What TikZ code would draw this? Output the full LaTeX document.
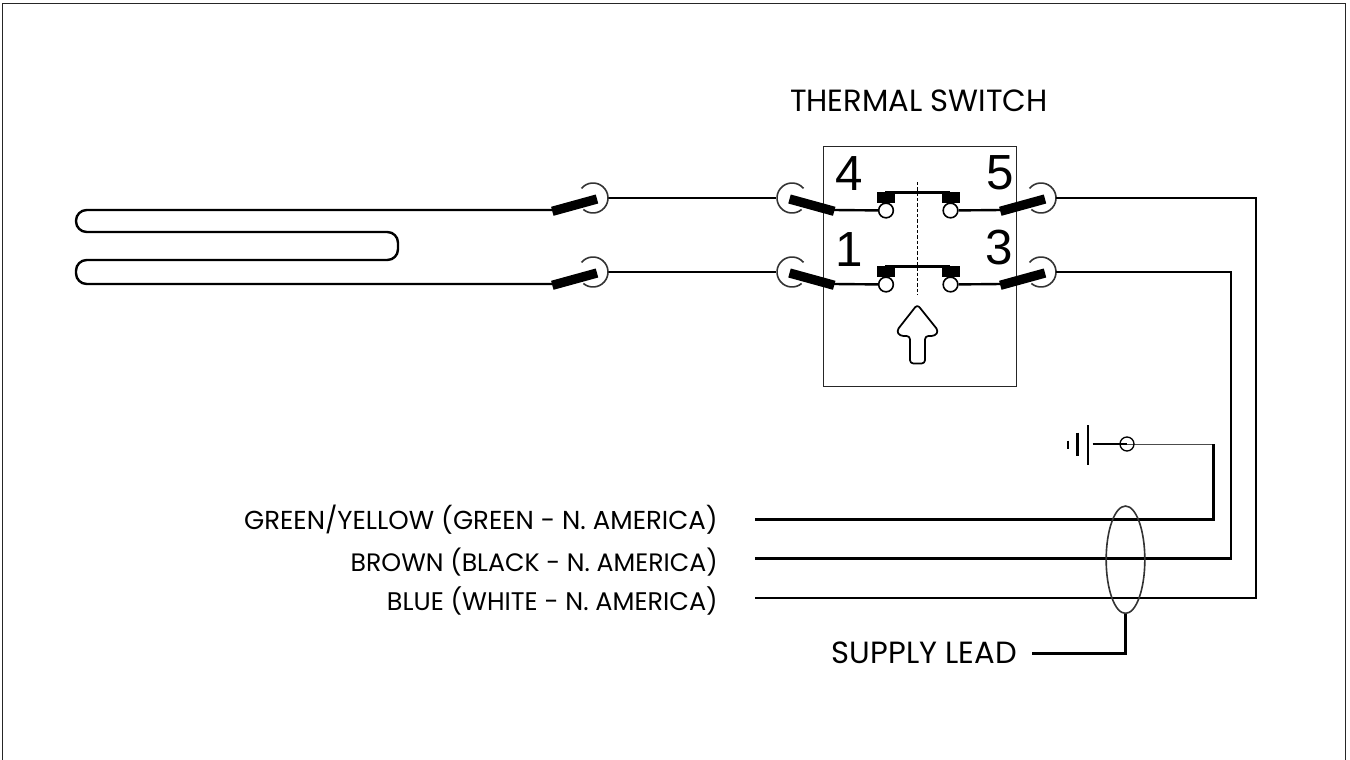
\documentclass[tikz,border=0pt]{standalone}
\usepackage{fontspec}
\usetikzlibrary{shapes.geometric}
\setmainfont{Poppins}
\newfontfamily\numfont{Liberation Sans}
\tikzset{
  px/.style={x=0.75pt,y=-0.75pt},
  wire/.style={draw=black,line width=1.8pt},
  thinwire/.style={draw=black!70,line width=0.7pt},
  biglabel/.style={inner sep=0pt,font=\fontsize{23}{26}\selectfont,text=black},
  wirelabel/.style={inner sep=0pt,anchor=base east,text=black},
  num/.style={inner sep=0pt,anchor=base,font=\numfont\fontsize{37}{40}\selectfont},
  ring/.style={draw=black!80,line width=1.2pt},
  post/.style={circle,draw=black,line width=1.2pt,minimum size=11pt,inner sep=0pt,fill=white},
  barb/.style={draw=black,line width=7pt},
  contact/.style={fill=black},
}
\newcommand{\leftterm}[2]{% arc centre (#1,#2), open to the right, bar runs down-right
  \draw[ring] (#1,#2) ++(-40:15) arc[start angle=-40,end angle=-310,radius=15];
  \draw[barb] (#1-2.5,#2+1) -- ++(44.7,12.3);
}
\newcommand{\rightterm}[2]{% arc centre (#1,#2), open to the left, bar runs down-left
  \draw[ring] (#1,#2) ++(-140:15) arc[start angle=-140,end angle=130,radius=15];
  \draw[barb] (#1+4,#2+1) -- ++(-44.7,12.3);
}
\begin{document}
\begin{tikzpicture}[px]
\useasboundingbox (0,0) rectangle (1350,760);
\draw[line width=0.8pt,black!85] (2.5,760) -- (2.5,3.5) -- (1345.5,3.5) -- (1345.5,760);

\coordinate (hA) at (552,210);
\coordinate (hB) at (552,284);
\coordinate (a1) at (608,198);
\coordinate (a2) at (608,272);
\coordinate (b1) at (776,198);
\coordinate (b2) at (776,272);
\coordinate (c1) at (1056,198);
\coordinate (c2) at (1056,272);
\coordinate (d1) at (834,210);
\coordinate (d2) at (834,284);
\coordinate (e1) at (1001,210);
\coordinate (e2) at (1001,284);

% heater
\draw[wire,rounded corners=8] (hA) -- (76,210) -- (76,232) -- (398,232) -- (398,260) -- (76,260) -- (76,284) -- (hB);

% wires between terminals
\draw[wire] (a1) -- (b1);
\draw[wire] (a2) -- (b2);

% switch box
\draw[line width=0.75pt,black!85] (823.5,146) rectangle (1016.5,386);
\node[num] (n4) at (849.5,190) {4};
\node[num] (n5) at (1000.5,189) {5};
\node[num] (n1) at (849,266.5) {1};
\node[num] (n3) at (999.5,264) {3};

% posts and contacts
\node[post] (p1) at (886,210.5) {};
\node[post] (p2) at (950.5,210.5) {};
\node[post] (p3) at (886,284.5) {};
\node[post] (p4) at (950.5,284.5) {};
\draw[wire] (d1) -- (p1);
\draw[wire] (e1) -- (p2);
\draw[wire] (d2) -- (p3);
\draw[wire] (e2) -- (p4);
\foreach \y in {191.7,265.7}{
  \fill[contact] (876.7,\y) rectangle (895,\y+11);
  \fill[contact] (941.7,\y) rectangle (960,\y+11);
  \draw[wire] (885,\y+0.6) -- (950,\y+0.6);
}
\draw[line width=0.7pt,black,dash pattern=on 2.4pt off 1.6pt] (917.3,182) -- (917.3,295);

% arrow
\draw[line width=1.3pt,rounded corners=2.5pt,line join=round]
  (917.3,304.5) -- (938.5,331) -- (935,336) -- (925,336) -- (925,363.5) -- (910,363.5) -- (910,336) -- (900,336) -- (896.5,331) -- cycle;

% terminals
\foreach \y in {198,272}{
  \draw[ring] (593,\y) ++(-140:15) arc[start angle=-140,end angle=130,radius=15];
  \draw[barb] (597,\y+1) -- ++(-44.7,12.3);
  \leftterm{792}{\y}
  \rightterm{1041}{\y}
}

% supply wiring
\coordinate (gnd) at (1127,444);
\coordinate (gcorner) at (1213.5,444);
\coordinate (wg) at (755,519.5);
\coordinate (wb) at (755,558.5);
\coordinate (wu) at (755,598);
\draw[thinwire] (gnd) -- (gcorner);
\draw[wire] (gcorner) -- (1213.5,519.5) -- (wg);
\draw[wire,line join=miter] (c2) -- (1231,272) -- (1231,558.5) -- (wb);
\draw[wire,line join=miter] (c1) -- (1256,198) -- (1256,598) -- (wu);

% earth symbol
\node[circle,draw=black,line width=1pt,minimum size=10.5pt,inner sep=0pt] (gc) at (gnd) {};
\coordinate (gbar) at (1092.5,444);
\draw[line width=1.2pt] (gbar) -- (gc.center);
\draw[line width=1.6pt] (1087.7,425) -- (1087.7,465);
\draw[line width=1.6pt] (1077.5,432.5) -- (1077.5,456);
\draw[line width=1.6pt] (1067.7,440.5) -- (1067.7,448.5);

% cable sleeve
\node[ellipse,draw=black!80,line width=1.2pt,minimum width=29pt,minimum height=80.5pt,inner sep=0pt] (sleeve) at (1125.5,559.7) {};
\coordinate (leadend) at (1032,653.5);
\draw[wire] (sleeve.south) -- (1125.5,653.5) -- (leadend);

% labels
\node[biglabel,anchor=base] (title) at (919,111) {THERMAL SWITCH};
\node[biglabel,anchor=base east] (lead) at (1017,663) {SUPPLY LEAD};
\node[wirelabel,font=\fontsize{19.5}{24}\selectfont] (l1) at (718,529.5) {GREEN/YELLOW (GREEN - N. AMERICA)};
\node[wirelabel,font=\fontsize{18.9}{24}\selectfont] (l2) at (718,571.5) {BROWN (BLACK - N. AMERICA)};
\node[wirelabel,font=\fontsize{19.1}{24}\selectfont] (l3) at (718,610) {BLUE (WHITE - N. AMERICA)};
\end{tikzpicture}
\end{document}
